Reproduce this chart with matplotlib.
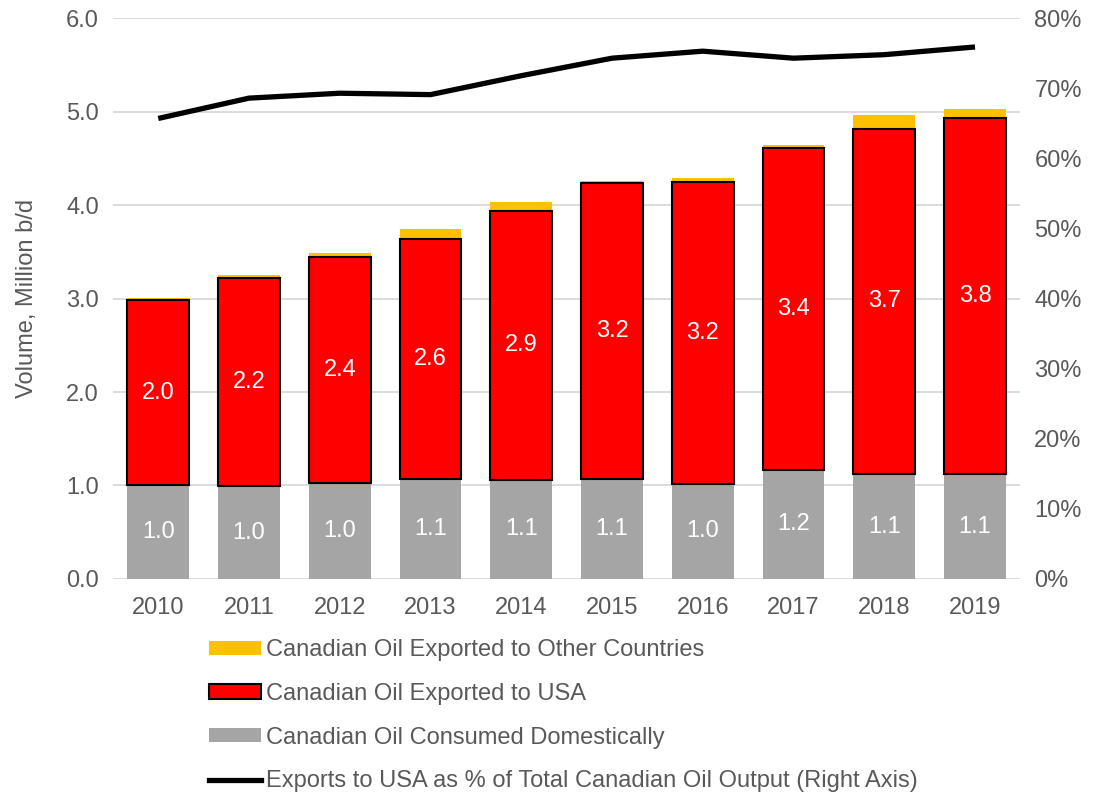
# Canadian oil output: domestic use vs exports, with US export share on right axis

import numpy as np
import matplotlib.pyplot as plt
from matplotlib.patches import Patch
from matplotlib.lines import Line2D
from matplotlib.ticker import FuncFormatter

plt.rcParams['font.family'] = ['Liberation Sans', 'DejaVu Sans']

years = ['2010', '2011', '2012', '2013', '2014', '2015', '2016', '2017', '2018', '2019']
domestic = [1.00, 0.99, 1.03, 1.07, 1.06, 1.07, 1.02, 1.17, 1.12, 1.12]
to_usa = [1.98, 2.23, 2.42, 2.57, 2.88, 3.17, 3.23, 3.44, 3.70, 3.81]
to_other = [0.03, 0.03, 0.04, 0.10, 0.09, 0.02, 0.04, 0.03, 0.14, 0.10]
usa_share = [65.7, 68.6, 69.3, 69.1, 71.8, 74.3, 75.3, 74.3, 74.8, 75.9]

grey = '#A5A5A5'
red = '#FF0000'
yellow = '#FFC000'
text_col = '#595959'
fs = 17

fig = plt.figure(figsize=(10.96, 7.93), dpi=100)
ax = fig.add_axes([0.103, 0.270, 0.828, 0.707])
ax2 = ax.twinx()

x = np.arange(len(years))
w = 0.68
dom = np.array(domestic)
usa = np.array(to_usa)

ax.bar(x, dom, w, color=grey, zorder=2)
ax.bar(x, usa, w, bottom=dom, color=red, edgecolor='black', linewidth=1.5, zorder=3)
ax.bar(x, to_other, w, bottom=dom + usa, color=yellow, zorder=2)

for i in range(len(years)):
    ax.text(x[i], dom[i] / 2, f'{dom[i]:.1f}', ha='center', va='center',
            color='white', fontsize=fs, zorder=5)
    ax.text(x[i], dom[i] + usa[i] / 2, f'{usa[i]:.1f}', ha='center', va='center',
            color='white', fontsize=fs, zorder=5)

ax2.plot(x, usa_share, color='black', linewidth=3.8, solid_capstyle='butt', zorder=4)

ax.set_xlim(-0.5, len(years) - 0.5)
ax.set_ylim(0, 6)
ax.set_yticks(np.arange(0, 6.1, 1.0))
ax.yaxis.set_major_formatter(FuncFormatter(lambda v, p: f'{v:.1f}'))
ax2.set_ylim(0, 80)
ax2.set_yticks(np.arange(0, 81, 10))
ax2.yaxis.set_major_formatter(FuncFormatter(lambda v, p: f'{v:.0f}%'))
ax.set_xticks(x)
ax.set_xticklabels(years)

ax.grid(axis='y', color='#D9D9D9', linewidth=1.3, zorder=0)
ax.set_axisbelow(True)
for a in (ax, ax2):
    for s in a.spines.values():
        s.set_visible(False)
    a.tick_params(length=0, labelsize=fs, colors=text_col)
ax.tick_params(axis='x', pad=13)
ax.tick_params(axis='y', pad=10)
ax2.tick_params(axis='y', pad=10)

ax.set_ylabel('Volume, Million b/d', fontsize=fs, color=text_col, labelpad=20)

handles = [
    Patch(facecolor=yellow, edgecolor='none'),
    Patch(facecolor=red, edgecolor='black', linewidth=1.5),
    Patch(facecolor=grey, edgecolor='none'),
    Line2D([0], [0], color='black', linewidth=3.8),
]
labels = [
    'Canadian Oil Exported to Other Countries',
    'Canadian Oil Exported to USA',
    'Canadian Oil Consumed Domestically',
    'Exports to USA as % of Total Canadian Oil Output (Right Axis)',
]
leg = fig.legend(handles, labels, loc='upper left', bbox_to_anchor=(0.191, 0.194),
                 frameon=False, fontsize=fs, handlelength=2.2, handleheight=0.55,
                 handletextpad=0.2, labelspacing=0.92, borderaxespad=0, borderpad=0)
for t in leg.get_texts():
    t.set_color(text_col)

fig.savefig('out.png', dpi=100)
